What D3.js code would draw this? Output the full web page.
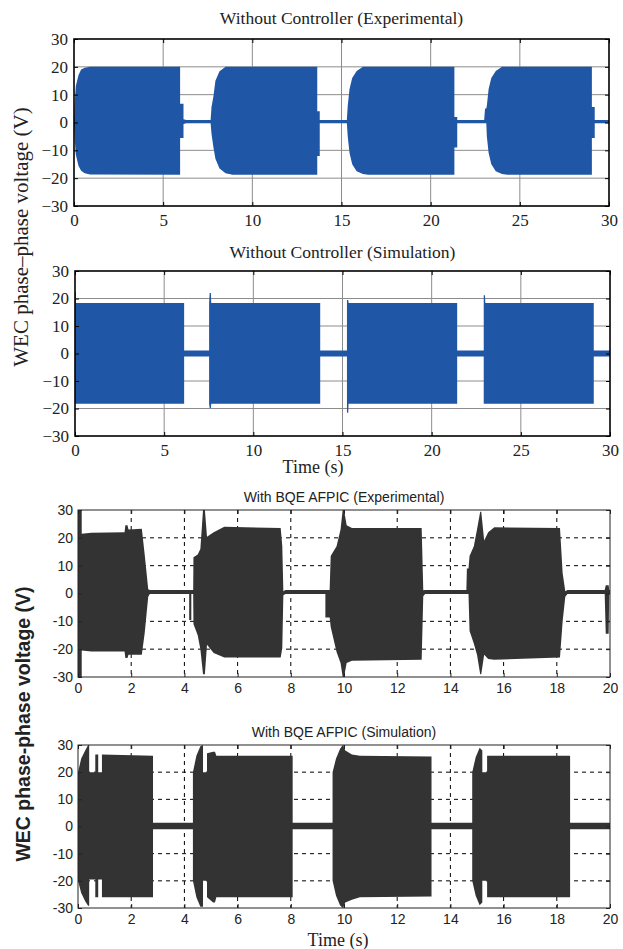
<!DOCTYPE html>
<html>
<head>
<meta charset="utf-8">
<script src="https://cdn.jsdelivr.net/npm/d3@7"></script>
<style>
body { margin: 0; background: #fff; }
svg { display: block; }
</style>
</head>
<body>
<svg id="chart" width="623" height="949"></svg>
<script>
// tick values
var ticksY = [-30, -20, -10, 0, 10, 20, 30];
var ticksX30 = [0, 5, 10, 15, 20, 25, 30];
var ticksX20 = [0, 2, 4, 6, 8, 10, 12, 14, 16, 18, 20];

var titles = [
    "Without Controller (Experimental)",
    "Without Controller (Simulation)",
    "With BQE AFPIC (Experimental)",
    "With BQE AFPIC (Simulation)"
];
var yLabelTop = "WEC phase\u2013phase voltage (V)";
var yLabelBottom = "WEC phase-phase voltage (V)";
var xLabel = "Time (s)";

// signal envelopes: [time (s), upper (V), lower (V)]
var expNoCtrl = [
    [0, 0.5, -0.5], [0.03, 6, -5], [0.1, 13, -11.5], [0.25, 17, -15.5], [0.4, 19, -17.3],
    [0.6, 19.7, -18.2], [0.9, 20, -18.7], [5.95, 20, -18.8], [5.95, 6.7, -5.6], [6.14, 6.7, -5.6],
    [6.14, 1.2, -0.5], [6.3, 0.9, -0.3], [7.66, 0.9, -0.3], [7.71, 5.6, -4], [7.82, 9.4, -9],
    [7.93, 15, -13], [8.16, 18.4, -16.5], [8.5, 20, -18.2], [8.9, 20, -18.8], [13.64, 20, -18.8],
    [13.64, 4, -12], [13.78, 4, -12], [13.78, 0.9, -0.3], [15.3, 0.9, -0.3], [15.35, 6, -5],
    [15.45, 12, -11], [15.6, 16, -15], [15.85, 18.5, -17.5], [16.2, 20, -18.5], [16.5, 20, -18.8],
    [21.33, 20, -18.8], [21.33, 2, -9], [21.49, 2, -9], [21.49, 0.9, -0.3], [23.0, 0.9, -0.3],
    [23.05, 5, -0.3], [23.12, 5, -0.3], [23.15, 6, -5], [23.25, 12, -11], [23.4, 16, -15],
    [23.65, 18.5, -17.5], [24.0, 20, -18.5], [24.3, 20, -18.8], [29.04, 20, -18.8], [29.04, 5.6, -5.6],
    [29.2, 5.6, -5.6], [29.2, 0.9, -0.3], [30, 0.9, -0.3]
];

var simNoCtrl = [
    [0, 22.5, -18.3], [0.05, 22.5, -18.3], [0.05, 18.4, -18.3], [6.12, 18.4, -18.3], [6.12, 1.1, -1.1],
    [7.52, 1.1, -1.1], [7.52, 18.4, -18.3], [7.55, 22, -19.8], [7.62, 22, -19.8], [7.64, 18.4, -18.3],
    [13.75, 18.4, -18.3], [13.75, 1.1, -1.1], [15.25, 1.1, -1.1], [15.25, 19.5, -21.5], [15.32, 19.5, -21.5],
    [15.34, 18.4, -18.3], [21.43, 18.4, -18.3], [21.43, 1.1, -1.1], [22.92, 1.1, -1.1], [22.92, 21.2, -18.3],
    [22.99, 21.2, -18.3], [23.01, 18.4, -18.3], [29.09, 18.4, -18.3], [29.09, 1.1, -1.1], [30, 1.1, -1.1]
];

var expBqe = [
    [0, 30, -30], [0.14, 30, -30], [0.14, 21.5, -20.5], [0.5, 21.8, -20.8], [1.75, 22, -20.8],
    [1.78, 24.5, -23.2], [1.86, 24.5, -23.2], [1.9, 23, -22], [2.4, 23.3, -22], [2.51, 13.7, -14],
    [2.64, 1.5, -1.2], [2.7, 1.3, -0.2], [4.18, 1.3, -0.2], [4.18, 1.3, -9.5], [4.26, 1.3, -9.5],
    [4.26, 1.3, -0.2], [4.33, 1.3, -0.2], [4.34, 13, -11], [4.5, 14, -15], [4.6, 16, -20],
    [4.7, 30, -29], [4.77, 30, -29], [4.85, 20.4, -18.4], [5.1, 22, -21.4], [5.5, 24, -23],
    [7.62, 23.5, -23], [7.68, 17, -19.6], [7.72, 0.8, -0.6], [7.8, 1.3, -0.2], [9.3, 1.3, -0.2],
    [9.3, 1.3, -8.6], [9.46, 1.3, -8.6], [9.5, 13.5, -12], [9.72, 17, -21], [9.87, 23, -25],
    [9.95, 30, -30], [10.0, 30, -30], [10.1, 24.5, -25], [10.3, 23.5, -24.2], [12.92, 23.5, -23.8],
    [12.98, 1.2, -1], [13.05, 1.3, -0.2], [14.6, 1.3, -0.2], [14.62, 9, -0.2], [14.68, 9, -0.2],
    [14.72, 13.5, -13.5], [14.88, 17, -18], [15.0, 23, -22], [15.12, 29.4, -29], [15.16, 29.4, -29],
    [15.27, 19, -22], [15.42, 22, -23.5], [15.65, 23.8, -23.8], [18.12, 23.5, -23], [18.22, 7.3, -10],
    [18.32, 0.8, -1.2], [18.4, 1.3, -0.2], [19.8, 1.3, -0.2], [19.84, 3, -14.5], [19.95, 3, -14.5],
    [19.97, 1.3, -0.2], [20, 1.3, -0.2]
];

var simBqe = [
    [0, 20, -20], [0.12, 25, -24.5], [0.27, 28, -27.5], [0.38, 30, -29.2], [0.42, 30, -29.2],
    [0.42, 20, -19.5], [0.65, 20, -19.5], [0.65, 26.5, -26], [0.76, 26.5, -26], [0.76, 20, -19.5],
    [0.9, 20, -19.5], [0.9, 26.5, -26], [2.82, 26, -26], [2.82, 1.4, -1], [4.32, 1.4, -1],
    [4.32, 20, -20], [4.45, 26, -26], [4.6, 29.5, -29.5], [4.7, 30, -29.5], [4.7, 20, -20],
    [4.85, 20, -20], [4.85, 27, -26], [5.08, 27.5, -28], [5.15, 27.5, -28], [5.2, 26, -26],
    [8.07, 26, -26], [8.07, 1.4, -1], [9.57, 1.4, -1], [9.57, 20, -20], [9.7, 25, -25.5],
    [9.85, 28.5, -29], [9.95, 30, -30], [10.05, 28, -28], [10.3, 26.5, -27], [10.6, 26, -26],
    [13.29, 25.8, -25.8], [13.29, 1.4, -1], [14.82, 1.4, -1], [14.82, 20, -20], [14.95, 25.5, -25.5],
    [15.1, 29, -29], [15.2, 28, -28], [15.2, 20, -20], [15.38, 20, -20], [15.38, 26, -26],
    [18.5, 26, -26], [18.5, 1.4, -1], [20, 1.4, -1]
];

// two looks: matlab-ish serif (top pair) and plain sans (bottom pair)
var serifLook = {
    font: "'Liberation Serif', 'Times New Roman', serif", tick: 17, title: 17.5,
    fill: "#1f56a6", grid: "#8c8c8c", dash: null, box: "#000", boxW: 1.6, minus: "\u2212",
    padX: 8, padY: 6
};
var sansLook = {
    font: "'Liberation Sans', Arial, sans-serif", tick: 14, title: 14,
    fill: "#333333", grid: "#000", dash: "4,4", box: "#222", boxW: 1, minus: "-",
    padX: 6, padY: 5
};

var panels = [
    { series: expNoCtrl, title: titles[0], xTicks: ticksX30, look: serifLook, left: 74, right: 609, top: 39, bottom: 206, titleY: 24 },
    { series: simNoCtrl, title: titles[1], xTicks: ticksX30, look: serifLook, left: 75, right: 610, top: 271, bottom: 436, titleY: 258 },
    { series: expBqe, title: titles[2], xTicks: ticksX20, look: sansLook, left: 78, right: 610, top: 510, bottom: 677, titleY: 502 },
    { series: simBqe, title: titles[3], xTicks: ticksX20, look: sansLook, left: 78, right: 610, top: 745, bottom: 908, titleY: 737 }
];

var svg = d3.select("#chart");
var defs = svg.append("defs");

panels.forEach(function (p, i) {
    var L = p.look;
    var x = d3.scaleLinear().domain([0, p.xTicks[p.xTicks.length - 1]]).range([p.left, p.right]);
    var y = d3.scaleLinear().domain([-30, 30]).range([p.bottom, p.top]);
    var g = svg.append("g").attr("class", "panel" + i);

    defs.append("clipPath").attr("id", "clip" + i)
        .append("rect")
        .attr("x", p.left).attr("y", p.top)
        .attr("width", p.right - p.left).attr("height", p.bottom - p.top);

    // grid first, signal goes over it
    g.selectAll("line.gx").data(p.xTicks.slice(1, -1)).enter().append("line")
        .attr("class", "gx")
        .attr("x1", function (d) { return x(d); }).attr("x2", function (d) { return x(d); })
        .attr("y1", p.top).attr("y2", p.bottom)
        .attr("stroke", L.grid).attr("stroke-width", 1)
        .attr("stroke-dasharray", L.dash);
    g.selectAll("line.gy").data(ticksY.slice(1, -1)).enter().append("line")
        .attr("class", "gy")
        .attr("y1", function (d) { return y(d); }).attr("y2", function (d) { return y(d); })
        .attr("x1", p.left).attr("x2", p.right)
        .attr("stroke", L.grid).attr("stroke-width", 1)
        .attr("stroke-dasharray", L.dash);

    var area = d3.area()
        .x(function (d) { return x(d[0]); })
        .y0(function (d) { return y(d[2]); })
        .y1(function (d) { return y(d[1]); });
    g.append("path").datum(p.series)
        .attr("d", area)
        .attr("fill", L.fill)
        .attr("clip-path", "url(#clip" + i + ")");

    var fmt = function (d) { return String(d).replace("-", L.minus); };

    g.append("g").attr("transform", "translate(0," + p.bottom + ")")
        .call(d3.axisBottom(x).tickValues(p.xTicks).tickSize(-4).tickPadding(L.padX).tickFormat(fmt));
    g.append("g").attr("transform", "translate(" + p.left + ",0)")
        .call(d3.axisLeft(y).tickValues(ticksY).tickSize(-4).tickPadding(L.padY).tickFormat(fmt));
    g.append("g").attr("transform", "translate(0," + p.top + ")")
        .call(d3.axisTop(x).tickValues(p.xTicks).tickSize(-4).tickFormat(""));
    g.append("g").attr("transform", "translate(" + p.right + ",0)")
        .call(d3.axisRight(y).tickValues(ticksY).tickSize(-4).tickFormat(""));

    g.selectAll(".domain").remove();
    g.selectAll(".tick line").attr("stroke", L.box);
    g.selectAll(".tick text")
        .attr("fill", "#222")
        .style("font-family", L.font)
        .style("font-size", L.tick + "px");

    g.append("rect")
        .attr("x", p.left).attr("y", p.top)
        .attr("width", p.right - p.left).attr("height", p.bottom - p.top)
        .attr("fill", "none").attr("stroke", L.box).attr("stroke-width", L.boxW);

    g.append("text")
        .attr("x", (p.left + p.right) / 2).attr("y", p.titleY)
        .attr("text-anchor", "middle")
        .attr("fill", "#222")
        .style("font-family", L.font).style("font-size", L.title + "px")
        .text(p.title);
});

// shared y labels and the two time labels
svg.append("text")
    .attr("transform", "translate(28,237) rotate(-90)")
    .attr("text-anchor", "middle")
    .attr("fill", "#222")
    .style("font-family", serifLook.font).style("font-size", "21px")
    .text(yLabelTop);

svg.append("text")
    .attr("transform", "translate(30,724) rotate(-90)")
    .attr("text-anchor", "middle")
    .attr("fill", "#222")
    .style("font-family", sansLook.font).style("font-size", "19.5px").style("font-weight", "bold")
    .text(yLabelBottom);

svg.append("text")
    .attr("x", 313).attr("y", 473)
    .attr("text-anchor", "middle")
    .attr("fill", "#222")
    .style("font-family", serifLook.font).style("font-size", "18px")
    .text(xLabel);

svg.append("text")
    .attr("x", 338).attr("y", 946)
    .attr("text-anchor", "middle")
    .attr("fill", "#222")
    .style("font-family", serifLook.font).style("font-size", "18px")
    .text(xLabel);
</script>
</body>
</html>
